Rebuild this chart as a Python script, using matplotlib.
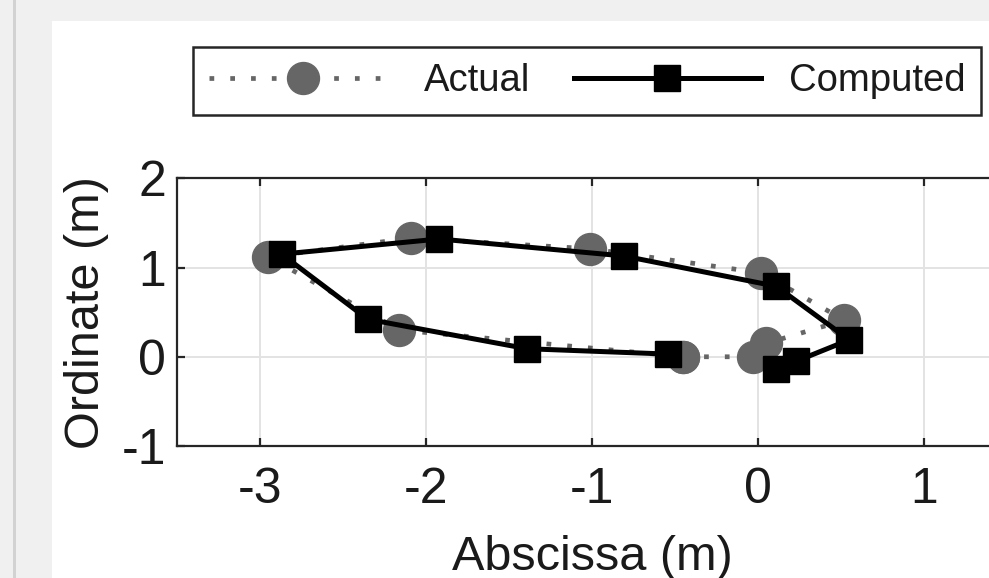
import matplotlib
matplotlib.use("Agg")
import matplotlib.pyplot as plt
from matplotlib.patches import Rectangle

# trajectory (metres)
actual_x = [-0.45, -0.03, 0.05, 0.52, 0.02, -1.01, -2.09, -2.95, -2.16, -0.45]
actual_y = [0.00, 0.00, 0.15, 0.41, 0.94, 1.21, 1.33, 1.12, 0.30, 0.00]

computed_x = [0.11, 0.23, 0.55, 0.11, -0.81, -1.92, -2.87, -2.35, -1.39, -0.54]
computed_y = [-0.14, -0.05, 0.19, 0.79, 1.13, 1.32, 1.15, 0.42, 0.09, 0.03]

x_ticks = [-3, -2, -1, 0, 1]
y_ticks = [-1, 0, 1, 2]

plt.rcParams['font.family'] = ['Liberation Sans', 'DejaVu Sans']
plt.rcParams['axes.unicode_minus'] = False

W, H = 989, 578
fig = plt.figure(figsize=(W / 100, H / 100), dpi=100)
fig.patch.set_facecolor('white')

# grey window frame around the white figure area
fig.patches.append(Rectangle((0, 0), 52 / W, 1, transform=fig.transFigure,
                             facecolor='#f0f0f0', edgecolor='none', zorder=-10))
fig.patches.append(Rectangle((0, 1 - 21 / H), 1, 21 / H, transform=fig.transFigure,
                             facecolor='#f0f0f0', edgecolor='none', zorder=-10))
fig.patches.append(Rectangle((13 / W, 0), 3 / W, 1, transform=fig.transFigure,
                             facecolor='#d2d2d2', edgecolor='none', zorder=-9))

ax = fig.add_axes([177 / W, (H - 446) / H, 830 / W, (446 - 178.3) / H])

ax.plot(actual_x, actual_y, linestyle=(0, (1, 3.4)), lw=3.4, color='#666666',
        marker='o', markersize=23, markerfacecolor='#666666',
        markeredgecolor='#666666', label='Actual', zorder=3)
ax.plot(computed_x, computed_y, linestyle='-', lw=3.6, color='black',
        marker='s', markersize=18.5, markerfacecolor='black',
        markeredgecolor='black', label='Computed', zorder=4)

ax.set_xlim(-3.5, 1.5)
ax.set_ylim(-1, 2)
ax.set_xticks(x_ticks)
ax.set_yticks(y_ticks)
ax.grid(True, color='#e3e3e3', lw=1.4)
ax.set_axisbelow(True)

for s in ax.spines.values():
    s.set_color('#262626')
    s.set_linewidth(1.6)

ax.tick_params(direction='in', length=6, width=1.6, color='#262626',
               labelsize=36, labelcolor='#1a1a1a', top=True, right=True)
ax.tick_params(axis='x', pad=15)
ax.tick_params(axis='y', pad=8)
ax.set_xlabel('Abscissa (m)', fontsize=35, color='#1a1a1a', labelpad=16)
ax.set_ylabel('Ordinate (m)', fontsize=35, color='#1a1a1a', labelpad=9)

leg = fig.legend(loc='upper left', bbox_to_anchor=(193 / W, 1 - 47 / H),
                 ncol=2, fontsize=27.5, frameon=True, fancybox=False,
                 framealpha=1, edgecolor='#262626', borderaxespad=0,
                 borderpad=0.42, handlelength=4.9, handletextpad=0.72,
                 columnspacing=1.15)
leg.get_frame().set_linewidth(1.8)
for t in leg.get_texts():
    t.set_color('#1a1a1a')

fig.savefig('out.png', dpi=100)
